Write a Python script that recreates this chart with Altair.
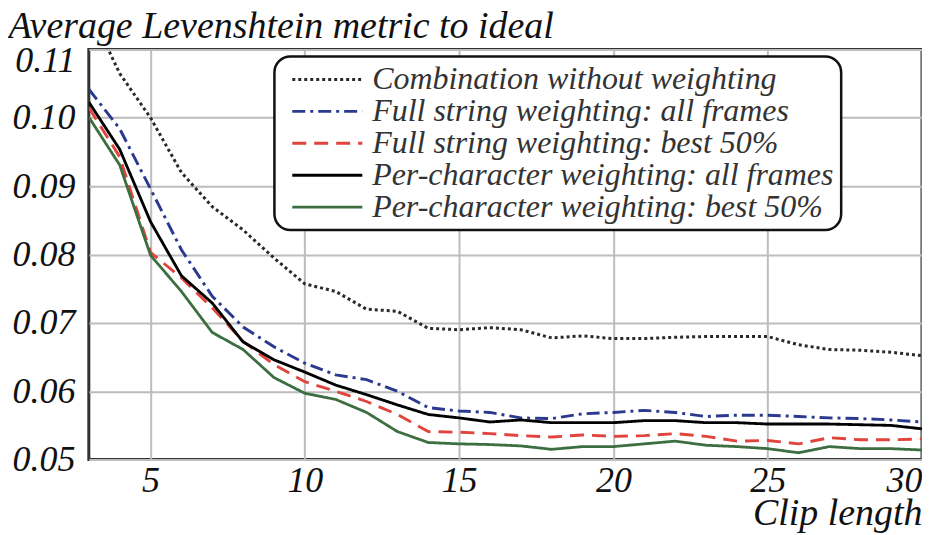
import altair as alt
import pandas as pd

clip_length = list(range(3, 31))

combination = [0.1160, 0.1065, 0.1000, 0.0920, 0.0870, 0.0836, 0.0795, 0.0757, 0.0746, 0.0720,
               0.0717, 0.0692, 0.0690, 0.0693, 0.0690, 0.0678, 0.0681, 0.0677, 0.0677, 0.0679,
               0.0680, 0.0680, 0.0680, 0.0668, 0.0661, 0.0660, 0.0657, 0.0652]
full_all = [0.1042, 0.0984, 0.0896, 0.0807, 0.0739, 0.0694, 0.0665, 0.0641, 0.0624, 0.0617,
            0.0600, 0.0576, 0.0571, 0.0569, 0.0561, 0.0560, 0.0567, 0.0569, 0.0572, 0.0569,
            0.0563, 0.0565, 0.0565, 0.0563, 0.0561, 0.0560, 0.0558, 0.0555]
full_best = [0.1015, 0.0943, 0.0803, 0.0766, 0.0722, 0.0673, 0.0639, 0.0614, 0.0600, 0.0585,
             0.0566, 0.0541, 0.0540, 0.0538, 0.0535, 0.0533, 0.0536, 0.0534, 0.0535, 0.0538,
             0.0534, 0.0527, 0.0528, 0.0523, 0.0532, 0.0529, 0.0529, 0.0530]
char_all = [0.1023, 0.0954, 0.0848, 0.0769, 0.0729, 0.0672, 0.0646, 0.0628, 0.0609, 0.0595,
            0.0580, 0.0566, 0.0561, 0.0555, 0.0558, 0.0554, 0.0554, 0.0554, 0.0557, 0.0557,
            0.0554, 0.0554, 0.0552, 0.0552, 0.0552, 0.0551, 0.0550, 0.0545]
char_best = [0.1001, 0.0931, 0.0799, 0.0746, 0.0686, 0.0661, 0.0620, 0.0597, 0.0588, 0.0569,
             0.0541, 0.0525, 0.0523, 0.0522, 0.0520, 0.0515, 0.0519, 0.0519, 0.0523, 0.0527,
             0.0521, 0.0519, 0.0516, 0.0510, 0.0519, 0.0516, 0.0516, 0.0514]

series_names = [
    "Combination without weighting",
    "Full string weighting: all frames",
    "Full string weighting: best 50%",
    "Per-character weighting: all frames",
    "Per-character weighting: best 50%",
]
series_values = [combination, full_all, full_best, char_all, char_best]
series_colors = ["#2a2a2a", "#2b3a8f", "#e0443c", "#000000", "#3c6e40"]
series_dashes = [[3, 3], [13, 5, 3, 5], [14, 8], [1, 0], [1, 0]]
series_widths = [3.0, 2.8, 2.8, 2.6, 2.2]

rows = []
for name, vals in zip(series_names, series_values):
    for x, v in zip(clip_length, vals):
        rows.append({"clip": x, "value": v, "series": name})
df = pd.DataFrame(rows)

FONT = "Liberation Serif"

chart = alt.Chart(df).mark_line(clip=True, strokeCap="butt").encode(
    x=alt.X("clip:Q",
            scale=alt.Scale(domain=[3, 30], nice=False, zero=False),
            axis=alt.Axis(values=[5, 10, 15, 20, 25, 30], title="Clip length",
                          grid=True, gridColor="#bdbdbd", gridWidth=2, gridOpacity=1,
                          labelFlush=True, labelPadding=4,
                          titleAnchor="end", titleAlign="right", titleX=835, titleY=65,
                          titleFontSize=38, titleBaseline="alphabetic")),
    y=alt.Y("value:Q",
            scale=alt.Scale(domain=[0.05, 0.11], nice=False, zero=False),
            axis=alt.Axis(values=[0.05, 0.06, 0.07, 0.08, 0.09, 0.10, 0.11], format=".2f",
                          grid=True, gridColor="#bdbdbd", gridWidth=2, gridOpacity=1,
                          title="Average Levenshtein metric to ideal", labelPadding=14,
                          labelOffset={"condition": {"test": "datum.value > 0.105", "value": 11},
                                       "value": 0},
                          titleAngle=0, titleAlign="left", titleBaseline="alphabetic",
                          titleX=-81, titleY=-12)),
    color=alt.Color("series:N",
                    scale=alt.Scale(domain=series_names, range=series_colors),
                    sort=series_names,
                    legend=alt.Legend(title=None, orient="none", legendX=186, legendY=7,
                                      fillColor="white", strokeColor="#111",
                                      cornerRadius=16, padding=7,
                                      symbolType="M-2.7,0H2.7", symbolSize=676,
                                      symbolOffset=30, symbolStrokeWidth=2.6,
                                      labelOffset=29,
                                      labelFontSize=32, labelFont=FONT,
                                      labelFontStyle="italic", labelColor="#333",
                                      labelLimit=700, rowPadding=0)),
    strokeDash=alt.StrokeDash("series:N",
                              scale=alt.Scale(domain=series_names, range=series_dashes),
                              sort=series_names, legend=None),
    strokeWidth=alt.StrokeWidth("series:N",
                                scale=alt.Scale(domain=series_names, range=series_widths),
                                sort=series_names, legend=None),
    order=alt.Order("clip:Q"),
).properties(
    width=835, height=411,
    autosize=alt.AutoSizeParams(type="none"),
    padding={"left": 81, "top": 41, "right": 0, "bottom": 74},
).configure_view(
    stroke="#333", strokeWidth=3,
).configure_axis(
    domain=False, ticks=False,
    labelFont=FONT, labelFontSize=36, labelFontStyle="italic", labelColor="#111",
    titleFont=FONT, titleFontSize=38, titleFontStyle="italic", titleFontWeight="normal",
    titleColor="#111",
).configure_legend(
    strokeWidth=2.5,
)

chart.save("out.html", embed_options={"renderer": "svg", "actions": False})
